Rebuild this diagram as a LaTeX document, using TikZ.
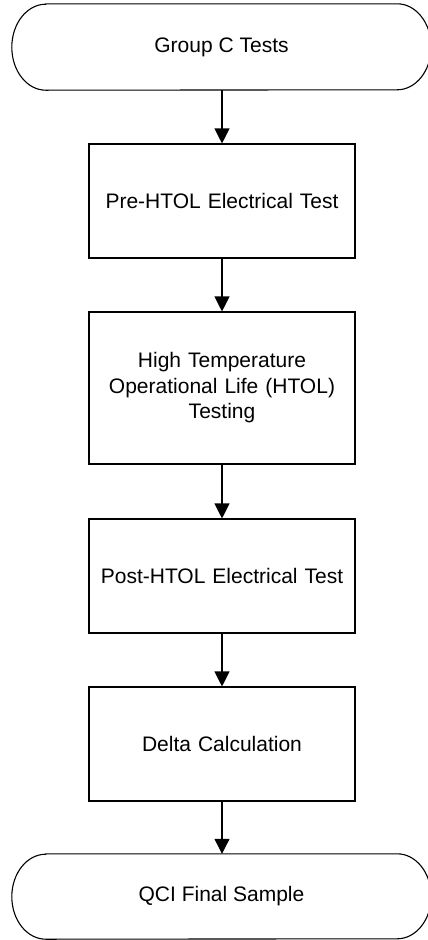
\documentclass[tikz,border=0pt]{standalone}
\usepackage{fontspec}
\setmainfont{Liberation Sans}
\usetikzlibrary{arrows.meta}
\begin{document}
\begin{tikzpicture}[
  x=1pt, y=1pt,
  every node/.style={font=\fontsize{21pt}{25.5pt}\selectfont, align=center, inner sep=0pt},
  procbox/.style={draw, line width=1.1pt, minimum width=266pt, text width=250pt},
  termbox/.style={minimum width=419pt},
  conn/.style={line width=1.1pt, -{Triangle[length=15pt,width=15pt]}},
  outline/.style={line width=1.1pt}
]
\useasboundingbox (0,0) rectangle (428,-940);

\node[termbox, minimum height=86pt] (t1) at (221.5,-47) {Group C Tests};
\node[procbox, minimum height=114pt] (b1) at (222,-201) {Pre-HTOL Electrical Test};
\node[procbox, minimum height=152pt] (b2) at (222,-388) {High Temperature\\Operational Life (HTOL)\\Testing};
\node[procbox, minimum height=114pt] (b3) at (222,-576) {Post-HTOL Electrical Test};
\node[procbox, minimum height=114pt] (b4) at (222,-744) {Delta Calculation};
\node[termbox, minimum height=85pt] (t2) at (221.5,-896.5) {QCI Final Sample};

\draw[outline] ([xshift=34pt]t1.north west) -- ([xshift=-34pt]t1.north east)
    arc[start angle=90, end angle=-90, x radius=34pt, y radius=43pt]
    -- ([xshift=34pt]t1.south west)
    arc[start angle=270, end angle=90, x radius=34pt, y radius=43pt] -- cycle;
\draw[outline] ([xshift=34pt]t2.north west) -- ([xshift=-34pt]t2.north east)
    arc[start angle=90, end angle=-90, x radius=34pt, y radius=42.5pt]
    -- ([xshift=34pt]t2.south west)
    arc[start angle=270, end angle=90, x radius=34pt, y radius=42.5pt] -- cycle;

\draw[conn] (t1.south -| b1.north) -- (b1.north);
\draw[conn] (b1.south) -- (b2.north);
\draw[conn] (b2.south) -- (b3.north);
\draw[conn] (b3.south) -- (b4.north);
\draw[conn] (b4.south) -- (t2.north -| b4.south);
\end{tikzpicture}
\end{document}
